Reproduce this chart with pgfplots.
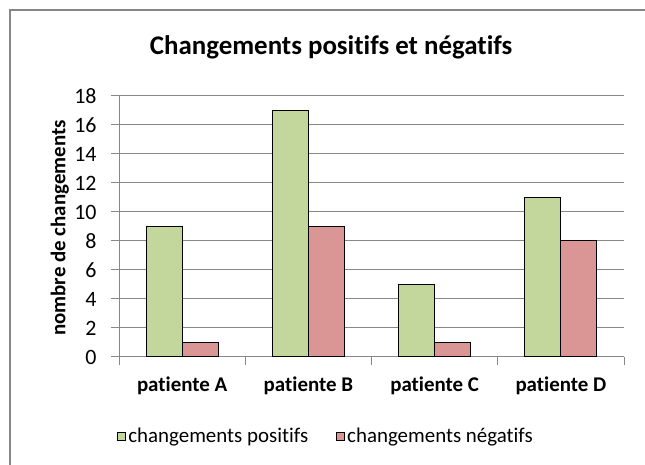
\documentclass[border=0pt]{standalone}
\usepackage{pgfplots}
\pgfplotsset{compat=1.18}
\usepackage{fontspec}
\setmainfont{Carlito}[Ligatures=NoCommon]
\definecolor{pos}{HTML}{C3D69B}
\definecolor{neg}{HTML}{D99694}
\definecolor{gridc}{HTML}{878787}
\begin{document}
\begin{tikzpicture}[x=1bp,y=1bp]
\path[use as bounding box] (0,0) rectangle (645,465);
\draw[gridc, line width=1.5bp] (10,0) -- (10,455) -- (650,455);
\begin{axis}[
  at={(119bp,108bp)}, anchor=south west,
  scale only axis, width=505bp, height=261bp,
  xmin=-0.5, xmax=3.5, ymin=0, ymax=18,
  ytick={0,2,...,18},
  xtick={-0.5,0.5,1.5,2.5,3.5},
  x tick label as interval,
  xticklabels={patiente A, patiente B, patiente C, patiente D},
  xticklabel style={font=\fontsize{21}{24}\selectfont\bfseries, yshift=-8bp},
  yticklabel style={font=\fontsize{22}{24}\selectfont, xshift=-11bp},
  /pgf/number format/assume math mode=true,
  tick align=outside,
  axis x line*=bottom, axis y line*=left,
  axis line style={gridc, line width=1bp},
  tick style={gridc, line width=1bp},
  major tick length=8bp,
  ymajorgrids, xmajorgrids=false,
  grid style={gridc, line width=1bp},
  ylabel={nombre de changements},
  ylabel style={at={(axis description cs:-0.117,0.494)}, anchor=center, font=\fontsize{21}{24}\selectfont\bfseries},
  title={Changements positifs et négatifs},
  title style={at={(axis description cs:0.42,1.162)}, anchor=center, font=\fontsize{27}{30}\selectfont\bfseries},
  ybar, bar width=36bp,
  legend style={at={(axis description cs:0.41,-0.303)}, anchor=center, draw=none, fill=none,
    legend columns=2, font=\fontsize{21}{24}\selectfont,
    /tikz/every even column/.append style={column sep=26bp}},
  legend image code/.code={\draw[#1, draw=black, line width=1bp] (0bp,-4bp) rectangle (8bp,4bp);},
]
\addplot[fill=pos, draw=black, line width=1bp, bar shift=-18bp] coordinates {(0,9) (1,17) (2,5) (3,11)};
\addplot[fill=neg, draw=black, line width=1bp, bar shift=18bp] coordinates {(0,1) (1,9) (2,1) (3,8)};
\legend{changements positifs, changements négatifs}
\end{axis}
\end{tikzpicture}
\end{document}
